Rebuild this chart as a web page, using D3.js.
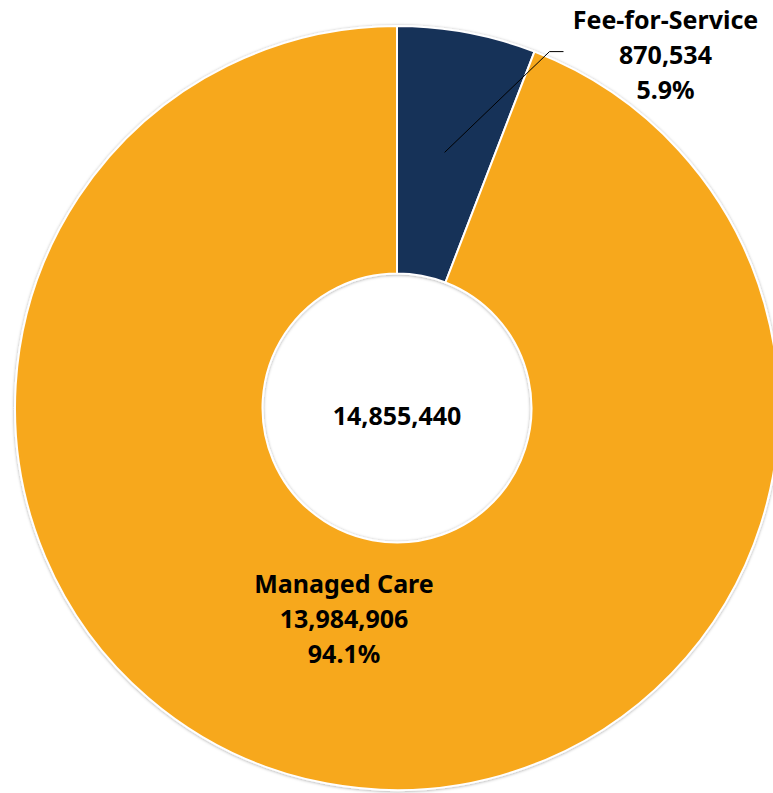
<!DOCTYPE html>
<html>
<head>
<meta charset="utf-8">
<script src="https://cdn.jsdelivr.net/npm/d3@7"></script>
<style>
  body { margin: 0; background: #fff; overflow: hidden; }
  text { font-family: "Noto Sans", "Open Sans", sans-serif; font-weight: 700; fill: #000; }
</style>
</head>
<body>
<div id="chart"></div>
<script>
const categories = ["Fee-for-Service", "Managed Care"];
const values = [870534, 13984906];
const percentLabels = ["5.9%", "94.1%"];
const colors = ["#183159", "#F7A81F"];

const width = 773, height = 793;
const cx = 397, cy = 408;
const outerR = 382, innerR = 134.5;
const fontSize = 25;

const total = d3.sum(values);
const fmt = d3.format(",");

const svg = d3.select("#chart").append("svg")
  .attr("width", width)
  .attr("height", height);

// soft shadow like the office chart
const defs = svg.append("defs");
const f = defs.append("filter").attr("id", "shadow")
  .attr("x", "-10%").attr("y", "-10%").attr("width", "120%").attr("height", "120%");
f.append("feDropShadow")
  .attr("dx", 0).attr("dy", 0.5)
  .attr("stdDeviation", 1.5)
  .attr("flood-color", "#000")
  .attr("flood-opacity", 0.35);

const g = svg.append("g").attr("transform", `translate(${cx},${cy})`);

const pie = d3.pie().sort(null).value(d => d.value);
const arcs = pie(categories.map((c, i) => ({ name: c, value: values[i], pct: percentLabels[i], color: colors[i] })));

const arc = d3.arc().innerRadius(innerR).outerRadius(outerR);

g.append("g").attr("filter", "url(#shadow)")
  .selectAll("path")
  .data(arcs)
  .join("path")
  .attr("d", arc)
  .attr("fill", d => d.data.color)
  .attr("stroke", "#fff")
  .attr("stroke-width", 2)
  .attr("stroke-linejoin", "round");

// centre total
g.append("text")
  .attr("text-anchor", "middle")
  .attr("y", 17)
  .style("font-size", fontSize + "px")
  .text(fmt(total));

const lineH = 35;

function addLabel(x, y, d) {
  const t = g.append("text")
    .attr("text-anchor", "middle")
    .style("font-size", fontSize + "px");
  [d.data.name, fmt(d.data.value), d.data.pct].forEach((s, i) => {
    t.append("tspan").attr("x", x).attr("y", y + i * lineH).text(s);
  });
}

// Fee-for-Service: outside label with leader line
const fee = arcs[0];
const leaderArc = d3.arc().innerRadius(260).outerRadius(260);
const [lx, ly] = leaderArc.centroid(fee);
const ex = outerR * Math.sin(fee.endAngle) + 15;
const ey = -outerR * Math.cos(fee.endAngle);
g.append("polyline")
  .attr("points", [[lx, ly], [ex, ey], [ex + 14, ey]].map(p => p.join(",")).join(" "))
  .attr("fill", "none")
  .attr("stroke", "#000")
  .attr("stroke-width", 1);
addLabel(ex + 116, ey - 23, fee);

// Managed Care: inside label
const mc = arcs[1];
const labelArc = d3.arc().innerRadius(213).outerRadius(213);
const [mx, my] = labelArc.centroid(mc);
addLabel(mx - 14, my - 24, mc);
</script>
</body>
</html>
